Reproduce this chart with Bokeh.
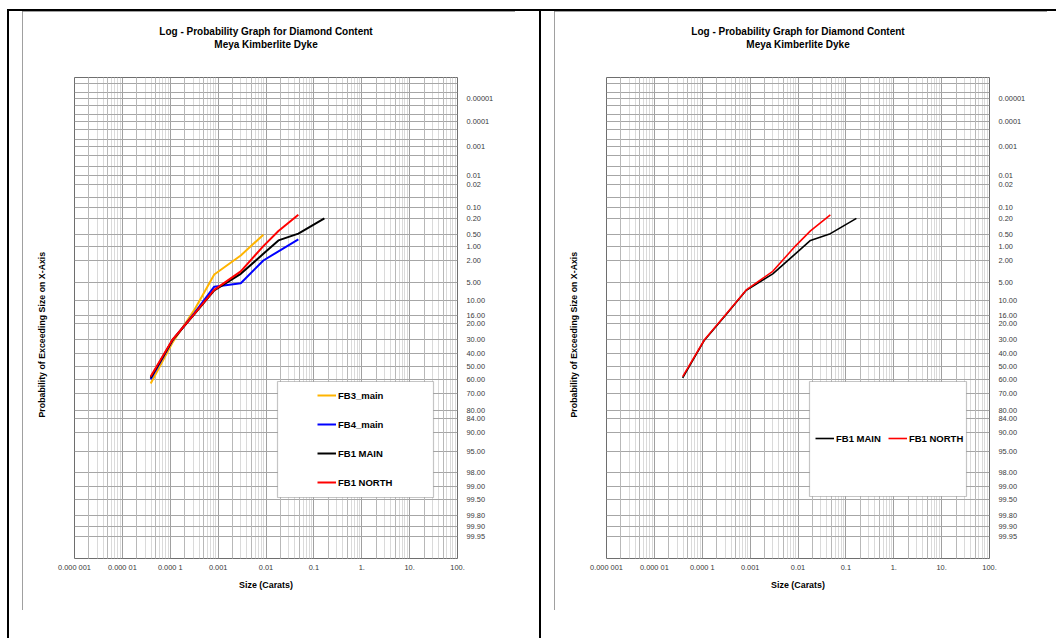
import math
from statistics import NormalDist
from bokeh.plotting import figure
from bokeh.layouts import row, column
from bokeh.models import (Range1d, FixedTicker, CustomJSTickFormatter, Legend, LegendItem,
                          BoxAnnotation, Title, Grid, Div)
from bokeh.embed import file_html
from bokeh.resources import INLINE

# ---------------- data ----------------
TITLE1 = "Log - Probability Graph for Diamond Content"
TITLE2 = "Meya Kimberlite Dyke"
X_LABEL = "Size (Carats)"
Y_LABEL = "Probability of Exceeding Size on X-Axis"

sizes_fb3_main = [3.9e-5, 1.11e-4, 3.16e-4, 8.3e-4, 2.97e-3, 8.8e-3]
prob_fb3_main = [62.7, 32.0, 13.6, 3.67, 1.54, 0.52]

sizes_fb4_main = [3.9e-5, 1.11e-4, 3.16e-4, 8.3e-4, 2.97e-3, 8.8e-3, 0.0474]
prob_fb4_main = [59.5, 30.5, 15.0, 6.0, 5.26, 1.96, 0.67]

sizes_fb1_main = [3.9e-5, 1.11e-4, 3.16e-4, 8.3e-4, 2.97e-3, 8.8e-3, 0.0182, 0.0474, 0.166]
prob_fb1_main = [58.5, 30.3, 15.5, 6.9, 3.57, 1.42, 0.71, 0.49, 0.20]

sizes_fb1_north = [3.9e-5, 1.11e-4, 3.16e-4, 8.3e-4, 2.97e-3, 8.8e-3, 0.0182, 0.0474]
prob_fb1_north = [57.5, 30.0, 15.3, 6.8, 3.2, 0.96, 0.42, 0.16]

x_tick_values = [1e-6, 1e-5, 1e-4, 1e-3, 1e-2, 1e-1, 1.0, 10.0, 100.0]
x_tick_labels = ["0.000 001", "0.000 01", "0.000 1", "0.001", "0.01", "0.1", "1.", "10.", "100."]

y_tick_values = [0.00001, 0.0001, 0.001, 0.01, 0.02, 0.10, 0.20, 0.50, 1, 2, 5, 10, 16, 20,
                 30, 40, 50, 60, 70, 80, 84, 90, 95, 98, 99, 99.5, 99.8, 99.9, 99.95]
y_tick_labels = ["0.00001", "0.0001", "0.001", "0.01", "0.02", "0.10", "0.20", "0.50", "1.00",
                 "2.00", "5.00", "10.00", "16.00", "20.00", "30.00", "40.00", "50.00", "60.00",
                 "70.00", "80.00", "84.00", "90.00", "95.00", "98.00", "99.00", "99.50", "99.80",
                 "99.90", "99.95"]
y_extra_grid = [0.000002, 0.000005, 0.00002, 0.00005, 0.0002, 0.0005, 0.002, 0.005, 0.05]
y_min_pct, y_max_pct = 0.000001, 99.99
x_min, x_max = 1e-6, 100.0

# ---------------- helpers ----------------
ND = NormalDist()


def z(p):
    return ND.inv_cdf(p / 100.0)


FONT = "Liberation Sans"
decades = list(range(-6, 2))
x_minor = [k * 10.0 ** d for d in decades for k in (3, 4, 6, 7, 8, 9)]
x_mid = [k * 10.0 ** d for d in decades for k in (2, 5)]

x_fmt_code = """
const t = Math.log10(tick);
for (let i = 0; i < vals.length; i++) {
  if (Math.abs(Math.log10(vals[i]) - t) < 1e-6) return labs[i];
}
return "";
"""
y_fmt_code = """
for (let i = 0; i < vals.length; i++) {
  if (Math.abs(vals[i] - tick) < 1e-6) return labs[i];
}
return "";
"""


def canvas_box(left, right, top, bottom, **kw):
    return BoxAnnotation(left=left, right=right, top=top, bottom=bottom,
                         left_units="canvas", right_units="canvas",
                         top_units="canvas", bottom_units="canvas", **kw)


def make_panel(series, lw, legend_kw, legend_box, margin):
    p = figure(width=493, height=599, x_axis_type="log", y_axis_location="right",
               x_range=Range1d(x_min, x_max), y_range=Range1d(z(y_max_pct), z(y_min_pct)),
               toolbar_location=None, output_backend="svg",
               min_border_left=52, min_border_right=58, min_border_top=66, min_border_bottom=52,
               margin=margin,
               styles={"outline": "1px solid #808080", "outline-offset": "-1px"})
    p.background_fill_color = "white"
    p.border_fill_color = "white"
    p.outline_line_color = "#6e6e6e"
    p.outline_line_width = 1

    tfont = dict(text_font=FONT, text_font_style="bold", text_color="black")
    # spacer + titles (first added sits nearest the frame)
    p.add_layout(Title(text=" ", standoff=15, text_font_size="10px", **tfont), "above")
    p.add_layout(Title(text=TITLE2, align="center", standoff=0,
                       text_font_size="10px", **tfont), "above")
    p.add_layout(Title(text=TITLE1, align="center", standoff=0,
                       text_font_size="10px", **tfont), "above")
    # y-axis caption on the left (spacer first)
    p.add_layout(Title(text=" ", standoff=16, text_font_size="8.8px", **tfont), "left")
    p.add_layout(Title(text=Y_LABEL, align="left", offset=141, standoff=0,
                       text_font_size="8.8px", **tfont), "left")

    # axes
    xa = p.xaxis[0]
    xa.ticker = FixedTicker(ticks=x_tick_values, minor_ticks=x_minor + x_mid)
    xa.formatter = CustomJSTickFormatter(args=dict(vals=x_tick_values, labs=x_tick_labels), code=x_fmt_code)
    ya = p.yaxis[0]
    ya.ticker = FixedTicker(ticks=[z(v) for v in y_tick_values], minor_ticks=[z(v) for v in y_extra_grid])
    ya.formatter = CustomJSTickFormatter(args=dict(vals=[z(v) for v in y_tick_values], labs=y_tick_labels),
                                         code=y_fmt_code)
    for ax, st in ((xa, 0), (ya, 5)):
        ax.axis_line_color = None
        ax.major_tick_line_color = None
        ax.minor_tick_line_color = None
        ax.major_tick_out = 0
        ax.major_tick_in = 0
        ax.major_label_standoff = st
        ax.major_label_text_font = FONT
        ax.major_label_text_font_size = "7.4px"
        ax.major_label_text_color = "#3a3a3a"
    xa.axis_label = X_LABEL
    xa.axis_label_standoff = 5
    xa.axis_label_text_font = FONT
    xa.axis_label_text_font_style = "bold"
    xa.axis_label_text_font_size = "8.9px"
    xa.axis_label_text_color = "black"

    # grids
    p.xgrid.grid_line_color = "#a0a0a0"
    p.xgrid.minor_grid_line_color = "#dadada"
    p.add_layout(Grid(dimension=0, ticker=FixedTicker(ticks=x_mid), grid_line_color="#b8b8b8"))
    p.ygrid.grid_line_color = "#a6a6a6"
    p.ygrid.minor_grid_line_color = "#a6a6a6"

    # data
    items = []
    for name, xs, ps, color in series:
        r = p.line(xs, [z(v) for v in ps], line_color=color, line_width=lw)
        items.append(LegendItem(label=name, renderers=[r]))

    # legend box + legend
    p.add_layout(canvas_box(*legend_box, fill_color="white", fill_alpha=1.0,
                            line_color="#404040", line_width=1.2))
    leg = Legend(items=items, padding=0, margin=0, border_line_color=None,
                 background_fill_alpha=0, label_standoff=2, glyph_width=19,
                 label_text_font=FONT, label_text_font_style="bold",
                 label_text_font_size="9.5px", label_text_color="black", **legend_kw)
    p.add_layout(leg, "center")
    return p


left_series = [("FB3_main", sizes_fb3_main, prob_fb3_main, "#FFB400"),
               ("FB4_main", sizes_fb4_main, prob_fb4_main, "#0000FF"),
               ("FB1 MAIN", sizes_fb1_main, prob_fb1_main, "#000000"),
               ("FB1 NORTH", sizes_fb1_north, prob_fb1_north, "#FF0000")]
right_series = [("FB1 MAIN", sizes_fb1_main, prob_fb1_main, "#000000"),
                ("FB1 NORTH", sizes_fb1_north, prob_fb1_north, "#FF0000")]

p1 = make_panel(left_series, 2.0,
                dict(location=(243, 66), orientation="vertical", spacing=9,
                     label_height=20, glyph_height=20),
                (255, 411, 370, 486), (0, 0, 0, 13))
p2 = make_panel(right_series, 1.6,
                dict(location=(209, 112), orientation="horizontal", spacing=7,
                     label_height=16, glyph_height=16),
                (255, 412, 370, 485), (0, 0, 0, 13))

BLACK = {"background-color": "black"}
top_bar = Div(text="", width=1049, height=2, margin=(9, 0, 0, 7), styles=BLACK)
vbar1 = Div(text="", width=2, height=627, margin=(0, 0, 0, 7), styles=BLACK)
vbar2 = Div(text="", width=2, height=627, margin=(0, 0, 0, 24), styles=BLACK)

layout = column(top_bar, row(vbar1, p1, vbar2, p2, spacing=0), spacing=0)
open("out.html", "w").write(file_html(layout, INLINE))
